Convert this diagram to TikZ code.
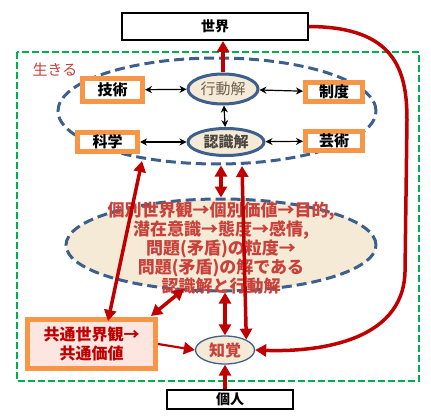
\documentclass[tikz,border=0pt]{standalone}
\usepackage{fontspec}
\setmainfont{Noto Sans CJK JP}
\usetikzlibrary{arrows.meta,shapes.geometric}
\definecolor{dred}{HTML}{C00000}
\definecolor{lred}{HTML}{C8413A}
\definecolor{oline}{HTML}{F79646}
\definecolor{bline}{HTML}{3D5F8E}
\definecolor{gline}{HTML}{00B050}
\definecolor{parch}{HTML}{F4EAD6}
\definecolor{pinkbg}{HTML}{FCE6DF}
\definecolor{acttext}{HTML}{6E6052}
\definecolor{cogtext}{HTML}{4A4640}

\begin{document}
\begin{tikzpicture}[x=1pt,y=-1pt,
  wb/.style={draw,line width=2pt,minimum width=186pt,minimum height=27pt,inner sep=0pt,font=\fontsize{14}{16}\selectfont\bfseries},
  ob/.style={draw=oline,line width=5pt,fill=white,minimum width=57pt,minimum height=19pt,inner sep=0pt,font=\fontsize{15}{17}\selectfont\bfseries},
  sol/.style={ellipse,draw=bline,line width=3pt,fill=parch,inner sep=0pt,font=\fontsize{15}{17}\selectfont},
  dsh/.style={ellipse,draw=bline,line width=3pt,dash pattern=on 10pt off 5pt,inner sep=0pt},
  rarr/.style={-{Triangle[length=11pt,width=12pt]},draw=dred,line width=3.5pt},
  rdbl/.style={{Triangle[length=11pt,width=12pt]}-{Triangle[length=11pt,width=12pt]},draw=dred,line width=3.5pt},
  barr/.style={{Stealth[length=7pt,width=7pt]}-{Stealth[length=7pt,width=7pt]},line width=1.2pt}]
\useasboundingbox (0,0) rectangle (431,417);
\draw[gline,line width=2.5pt,dash pattern=on 7pt off 3pt] (17,52) rectangle (419,381);
\node[text=lred,font=\fontsize{15}{17}\selectfont] (live) at (55,70) {生きる};
\node[dsh,minimum width=318pt,minimum height=106pt] (life) at (217,111) {};
\node[sol,minimum width=70pt,minimum height=30pt,text=acttext] (act) at (223,89) {行動解};
\node[sol,minimum width=76pt,minimum height=27pt,text=cogtext,font=\fontsize{15}{17}\selectfont\bfseries] (cog) at (226,142) {認識解};
\node[ob,minimum width=60pt,minimum height=23pt] (skill) at (112.5,90) {技術};
\node[ob] (inst) at (334,92) {制度};
\node[ob,minimum width=60pt] (sci) at (107.5,142) {科学};
\node[ob] (art) at (334,141) {芸術};
\draw[barr] (skill) -- (act); \draw[barr] (act) -- (inst); \draw[barr] (sci) -- (cog); \draw[barr] (cog) -- (art); \draw[barr] (act) -- (cog);
\node[dsh,fill=parch,minimum width=310pt,minimum height=92pt] (mind) at (221,245) {};
\node[text=lred,align=center,font=\fontsize{17}{19}\selectfont\bfseries] (mindtxt) at (221,248) {個別世界観→個別価値→目的,\\潜在意識→態度→感情,\\問題(矛盾)の粒度→\\問題(矛盾)の解である\\認識解と行動解};
\node[draw=oline,line width=5pt,fill=pinkbg,minimum width=128pt,minimum height=49pt,align=center,text=dred,font=\fontsize{16}{19}\selectfont\bfseries] (common) at (91.5,344) {共通世界観→\\共通価値};
\node[ellipse,draw=bline,line width=1.3pt,fill=parch,minimum width=59pt,minimum height=28pt,inner sep=0pt,text=lred,font=\fontsize{16}{18}\selectfont\bfseries] (percept) at (225,350) {知覚};
\node[wb] (world) at (215,26.5) {世界};
\node[wb,minimum width=126pt,minimum height=19pt] (person) at (230,399.5) {個人};
\coordinate (lifel) at (142,161); \coordinate (lifer) at (242,166);
\coordinate (cmtop) at (108,321); \coordinate (cmne) at (151,316); \coordinate (mindsw) at (184,289);
\draw[rarr] (act.north) -- (act.north |- world.south);
\draw[rdbl] (mind.north) -- (mind.north |- life.south);
\draw[rdbl] (percept.north) -- (percept.north |- mind.south);
\draw[rdbl] (lifer) -- (percept.north east);
\draw[rdbl] (lifel) -- (cmtop);
\draw[rdbl] (cmne) -- (mindsw);
\draw[rarr,line width=2.2pt] (common.east) -- (percept.west);
\draw[rarr] (person.north -| percept.south) -- (percept.south);
\draw[rarr] (world.east) .. controls (395,27) and (407,70) .. (407,120) -- (405,272) .. controls (403,345) and (310,352) .. (percept.east);
\end{tikzpicture}
\end{document}
